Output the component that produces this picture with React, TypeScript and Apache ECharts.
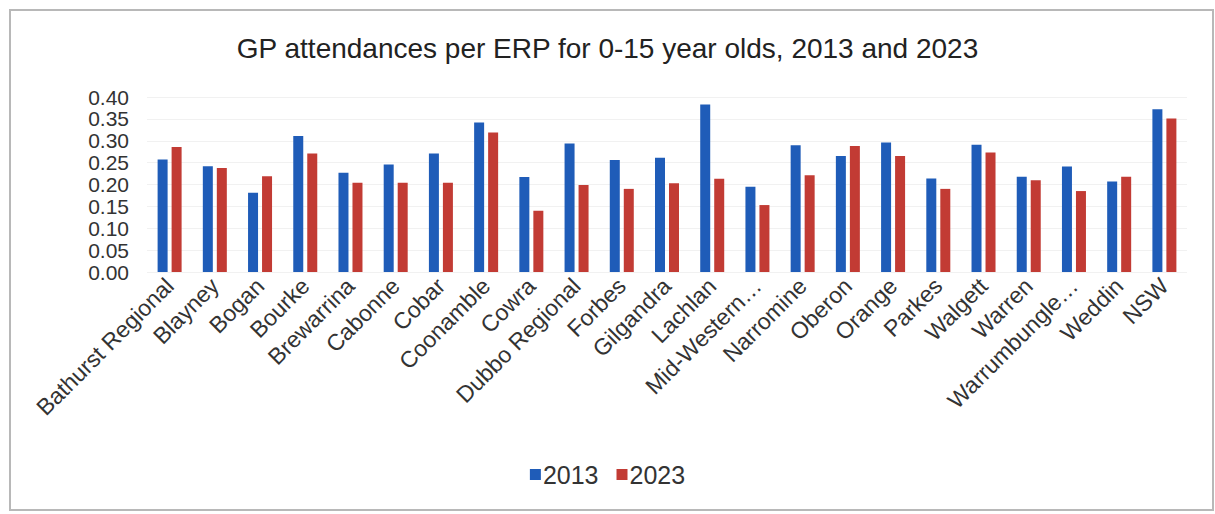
import React, { useEffect, useRef } from "react";
import * as echarts from "echarts";

const categories = [
  "Bathurst Regional", "Blayney", "Bogan", "Bourke", "Brewarrina", "Cabonne", "Cobar",
  "Coonamble", "Cowra", "Dubbo Regional", "Forbes", "Gilgandra", "Lachlan", "Mid-Western…",
  "Narromine", "Oberon", "Orange", "Parkes", "Walgett", "Warren", "Warrumbungle…", "Weddin", "NSW",
];
const values2013 = [
  0.257, 0.242, 0.181, 0.311, 0.227, 0.246, 0.271,
  0.342, 0.217, 0.294, 0.256, 0.261, 0.383, 0.195,
  0.290, 0.265, 0.296, 0.214, 0.291, 0.218, 0.241, 0.207, 0.372,
];
const values2023 = [
  0.286, 0.238, 0.219, 0.271, 0.204, 0.204, 0.204,
  0.319, 0.140, 0.199, 0.190, 0.203, 0.213, 0.153,
  0.221, 0.288, 0.265, 0.190, 0.273, 0.210, 0.185, 0.218, 0.351,
];
const seriesNames = ["2013", "2023"];
const titleText = "GP attendances per ERP for 0-15 year olds, 2013 and 2023";

const BLUE = "#1f5cb8";
const RED = "#c23b34";
const FONT = "'Liberation Sans', Arial, sans-serif";

export default function App() {
  const ref = useRef<HTMLDivElement>(null);
  useEffect(() => {
    document.body.style.margin = "0";
    const chart = echarts.init(ref.current!, null, { renderer: "svg" });
    chart.setOption({
      animation: false,
      backgroundColor: "#ffffff",
      textStyle: { fontFamily: FONT },
      graphic: [
        {
          type: "rect",
          shape: { x: 10, y: 10, width: 1203, height: 500 },
          style: { fill: "none", stroke: "#b8b8b8", lineWidth: 2 },
          silent: true,
        },
      ],
      title: {
        text: titleText,
        left: "center",
        top: 29,
        textStyle: { fontFamily: FONT, fontSize: 28, fontWeight: "normal", color: "#222" },
      },
      legend: {
        data: seriesNames,
        bottom: 22,
        left: "center",
        icon: "rect",
        itemWidth: 11,
        itemHeight: 11,
        itemGap: 18,
        textStyle: { fontFamily: FONT, fontSize: 25, color: "#333", padding: [0, 0, 0, -3] },
      },
      grid: { left: 147, right: 28, top: 97, bottom: 242, containLabel: false },
      xAxis: {
        type: "category",
        data: categories,
        axisLine: { show: false },
        axisTick: { show: false },
        axisLabel: {
          rotate: 45,
          interval: 0,
          margin: 10,
          fontFamily: FONT,
          fontSize: 23,
          color: "#333",
        },
      },
      yAxis: {
        type: "value",
        min: 0,
        max: 0.4,
        interval: 0.05,
        axisLine: { show: false },
        axisTick: { show: false },
        splitLine: { lineStyle: { color: "#f1f1f1" } },
        axisLabel: {
          formatter: (v: number) => v.toFixed(2),
          margin: 18,
          fontFamily: FONT,
          fontSize: 21,
          lineHeight: 21,
          color: "#333",
          showMinLabel: true,
          showMaxLabel: true,
          hideOverlap: false,
        },
      },
      series: [
        {
          name: seriesNames[0],
          type: "bar",
          data: values2013,
          barWidth: 10,
          barGap: "40%",
          itemStyle: { color: BLUE },
        },
        {
          name: seriesNames[1],
          type: "bar",
          data: values2023,
          barWidth: 10,
          itemStyle: { color: RED },
        },
      ],
    });
    return () => chart.dispose();
  }, []);
  return (
    <div
      ref={ref}
      style={{ position: "fixed", left: 0, top: 0, width: 1215, height: 514 }}
    />
  );
}
